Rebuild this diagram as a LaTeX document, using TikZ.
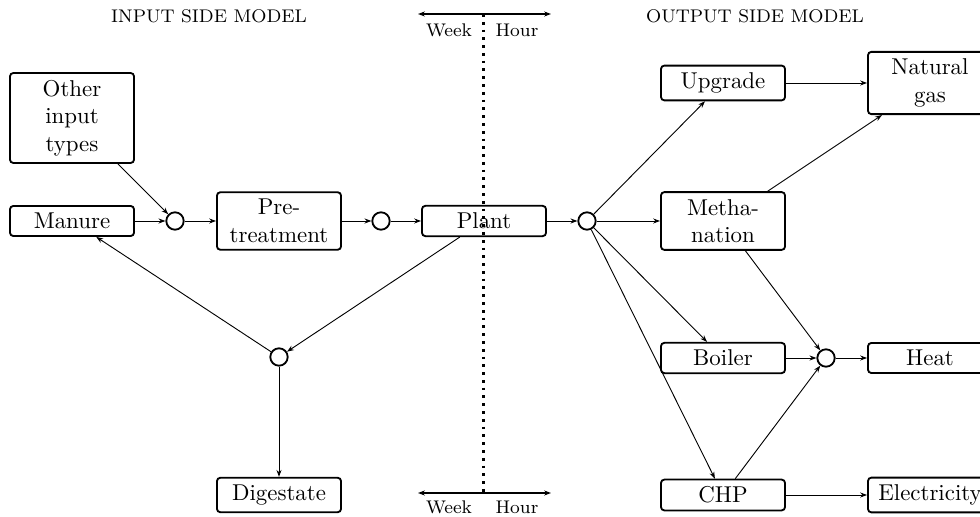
\documentclass[tikz,border=0pt]{standalone}
\usetikzlibrary{arrows.meta}
\begin{document}
\begin{tikzpicture}[x=0.4367pt,y=-0.4367pt,
  box/.style={draw, thick, rounded corners=1.5pt, text width=48pt, align=center, inner sep=3.1pt, font=\normalsize},
  junc/.style={draw, thick, circle, minimum size=7.6pt, inner sep=0pt},
  conn/.style={-{Stealth[length=3pt,width=2.2pt]}, thin},
  scalearrow/.style={{Stealth[length=3pt,width=2.2pt]}-{Stealth[length=3pt,width=2.2pt]}, semithick},
  divider/.style={line width=1.2pt, dash pattern=on 1.2pt off 2.2pt},
  lbl/.style={font=\footnotesize, inner sep=1pt},
  head/.style={font=\footnotesize}]
\useasboundingbox (0,0) rectangle (980,517);
% headings
\node[head] (inhead) at (209,16) {INPUT SIDE MODEL};
\node[head] (outhead) at (755,16) {OUTPUT SIDE MODEL};
% nodes
\node[box] (other) at (72,118) {Other\\input\\types};
\node[box] (manure) at (72,221) {Manure};
\node[junc] (c1) at (175,221) {};
\node[box] (pre) at (279,221) {Pre-\\treatment};
\node[junc] (c2) at (381,221) {};
\node[box] (plant) at (484,221) {Plant};
\node[junc] (c3) at (587,221) {};
\node[box] (upg) at (723,83) {Upgrade};
\node[box] (ng) at (930,83) {Natural\\gas};
\node[box] (meth) at (723,221) {Metha-\\nation};
\node[box] (boiler) at (723,358) {Boiler};
\node[junc] (c4) at (826,358) {};
\node[box] (heat) at (930,358) {Heat};
\node[box] (chp) at (723,495) {CHP};
\node[box] (elec) at (930,495) {Electricity};
\node[junc] (c5) at (279,357) {};
\node[box] (dig) at (279,495) {Digestate};
% time-scale divider
\coordinate (tl) at (418,14);
\coordinate (tr) at (551,14);
\coordinate (tm) at (483.5,14);
\coordinate (bl) at (418,493);
\coordinate (br) at (551,493);
\coordinate (bm) at (483.5,493);
\draw[scalearrow] (tl) -- (tr);
\draw[scalearrow] (bl) -- (br);
\draw[divider] (tm) -- (bm);
\node[lbl] (wk1) at (449,30) {Week};
\node[lbl] (hr1) at (517,30) {Hour};
\node[lbl] (wk2) at (449,507) {Week};
\node[lbl] (hr2) at (517,507) {Hour};
% connectors
\draw[conn] (other) -- (c1);
\draw[conn] (manure) -- (c1);
\draw[conn] (c1) -- (pre);
\draw[conn] (pre) -- (c2);
\draw[conn] (c2) -- (plant);
\draw[conn] (plant) -- (c3);
\draw[conn] (c3) -- (upg);
\draw[conn] (c3) -- (meth);
\draw[conn] (c3) -- (boiler);
\draw[conn] (c3) -- (chp);
\draw[conn] (upg) -- (ng);
\draw[conn] (meth) -- (ng);
\draw[conn] (meth) -- (c4);
\draw[conn] (boiler) -- (c4);
\draw[conn] (chp) -- (c4);
\draw[conn] (c4) -- (heat);
\draw[conn] (chp) -- (elec);
\draw[conn] (plant) -- (c5);
\draw[conn] (c5) -- (manure);
\draw[conn] (c5) -- (dig);
\end{tikzpicture}
\end{document}
